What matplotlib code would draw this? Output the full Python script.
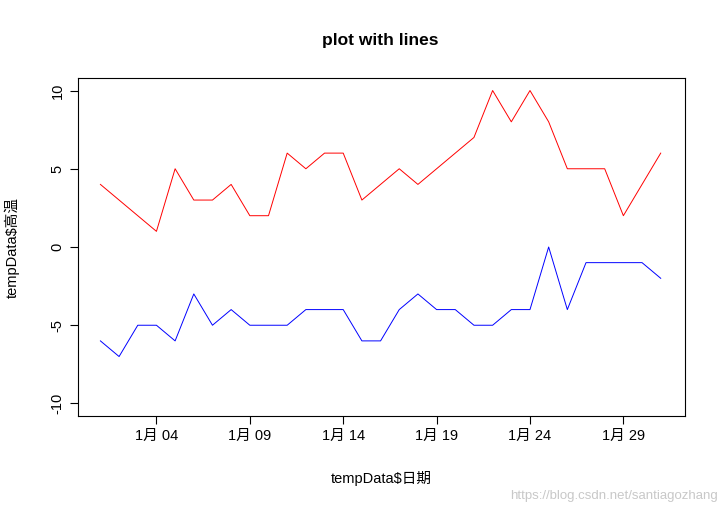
import matplotlib
matplotlib.use("Agg")
import matplotlib.pyplot as plt

plt.rcParams['font.family'] = ['Liberation Sans', 'Noto Sans CJK SC', 'DejaVu Sans']

days = list(range(1, 32))
high = [4,3,2,1,5,3,3,4,2,2,6,5,6,6,3,4,5,4,5,6,7,10,8,10,8,5,5,5,2,4,6]
low = [-6,-7,-5,-5,-6,-3,-5,-4,-5,-5,-5,-4,-4,-4,-6,-6,-4,-3,-4,-4,-5,-5,-4,-4,0,-4,-1,-1,-1,-1,-2]
tick_days = [4, 9, 14, 19, 24, 29]
tick_labels = ['1月 04', '1月 09', '1月 14', '1月 19', '1月 24', '1月 29']

fig = plt.figure(figsize=(7.25, 5.14), dpi=100)
ax = fig.add_axes([78/725, 1-416/514, (685-78)/725, (416-78)/514])
ax.plot(days, high, color='red', lw=0.7)
ax.plot(days, low, color='blue', lw=0.7)
ax.set_xlim(-0.2, 32.3)
ax.set_ylim(-10.8, 10.8)
ax.set_xticks(tick_days)
ax.set_xticklabels(tick_labels, fontsize=10.5)
ax.set_yticks([-10, -5, 0, 5, 10])
ax.set_yticklabels(['-10', '-5', '0', '5', '10'], rotation=90, va='center', fontsize=10.5)
ax.tick_params(length=6, width=0.8)
for s in ax.spines.values():
    s.set_linewidth(0.8)
ax.set_xlabel('tempData$日期', fontsize=10.5, labelpad=20)
ax.set_ylabel('tempData$高温', fontsize=10.5, labelpad=22)
fig.text(380/725, 1-41/514, 'plot with lines', ha='center', va='center', fontsize=12.5, fontweight='bold')
fig.text(718/725, 1-496/514, 'https://blog.csdn.net/santiagozhang', ha='right', va='center', fontsize=9.5, color='#c8c8c8')
fig.savefig('out.png')
